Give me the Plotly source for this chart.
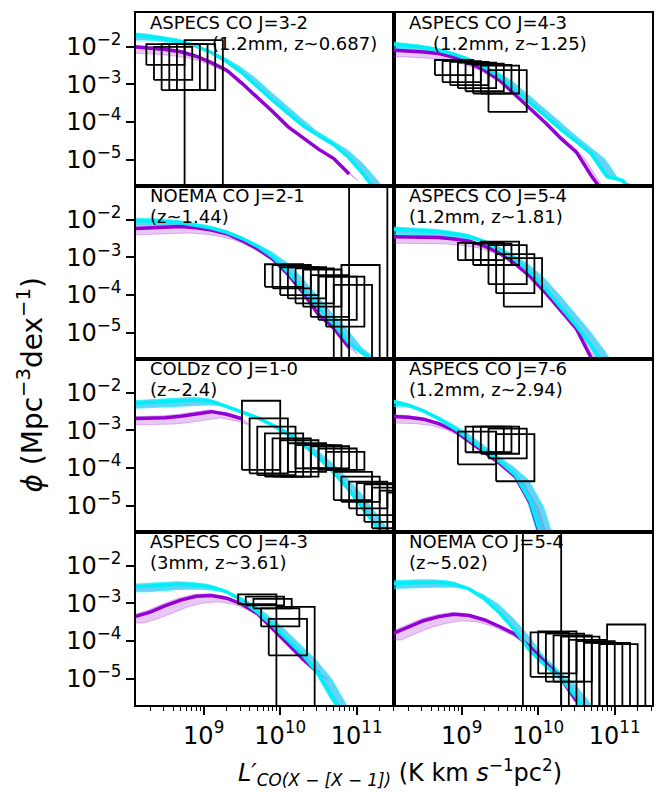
import plotly.graph_objects as go
from plotly.subplots import make_subplots

# ---------------- data (log10 values) ----------------
LOGL = [8.1, 8.3, 8.5, 8.7, 8.9, 9.1, 9.3, 9.5, 9.7, 9.9, 10.1, 10.3, 10.5, 10.7, 10.9, 11.1, 11.3, 11.5]

TITLES = ["ASPECS CO J=3-2", "ASPECS CO J=4-3", "NOEMA CO J=2-1", "ASPECS CO J=5-4",
          "COLDz CO J=1-0", "ASPECS CO J=7-6", "ASPECS CO J=4-3", "NOEMA CO J=5-4"]
SUBTITLES = ["(1.2mm, z~0.687)", "(1.2mm, z~1.25)", "(z~1.44)", "(1.2mm, z~1.81)",
             "(z~2.4)", "(1.2mm, z~2.94)", "(3mm, z~3.61)", "(z~5.02)"]

CYAN_1 = [-1.69, -1.73, -1.79, -1.86, -1.98, -2.15, -2.39, -2.69, -3.06, -3.42, -3.76, -4.10, -4.36, -4.60, -4.95, -5.42, -5.95, None]
PURPLE_1 = [-2.00, -2.03, -2.07, -2.13, -2.25, -2.42, -2.62, -2.97, -3.33, -3.72, -4.12, -4.42, -4.72, -4.97, -5.38, None, None, None]
CYAN_2 = [-1.93, -1.97, -2.02, -2.09, -2.20, -2.34, -2.54, -2.80, -3.15, -3.49, -3.84, -4.20, -4.52, -4.85, -5.45, -5.55, -6.0, None]
PURPLE_2 = [-2.09, -2.11, -2.14, -2.18, -2.28, -2.43, -2.63, -2.90, -3.27, -3.65, -4.03, -4.44, -4.80, -5.45, -6.0, None, None, None]
CYAN_3 = [-2.02, -2.03, -2.05, -2.08, -2.14, -2.22, -2.33, -2.49, -2.70, -2.98, -3.38, -3.85, -4.34, -4.77, -5.28, -5.58, -5.9, None]
PURPLE_3 = [-2.23, -2.21, -2.19, -2.18, -2.21, -2.27, -2.37, -2.55, -2.77, -3.04, -3.45, -3.94, -4.52, -4.88, -5.4, None, None, None]
CYAN_4 = [-2.25, -2.27, -2.29, -2.32, -2.37, -2.44, -2.58, -2.79, -3.05, -3.40, -3.85, -4.33, -4.82, -5.36, -6.0, None, None, None]
PURPLE_4 = [-2.45, -2.45, -2.46, -2.47, -2.51, -2.57, -2.70, -2.89, -3.17, -3.52, -3.95, -4.43, -4.90, -5.70, None, None, None, None]
CYAN_5 = [-2.28, -2.26, -2.24, -2.21, -2.19, -2.22, -2.37, -2.50, -2.66, -2.86, -3.10, -3.38, -3.72, -4.12, -4.58, -5.12, -5.68, -6.2]
PURPLE_5 = [-2.68, -2.67, -2.66, -2.62, -2.57, -2.50, -2.57, -2.69, None, None, None, None, None, None, None, None, None, None]
CYAN_6 = [-2.23, -2.33, -2.48, -2.69, -2.94, -3.24, -3.55, -3.83, -4.18, -4.90, -6.2, None, None, None, None, None, None, None]
PURPLE_6 = [-2.63, -2.65, -2.70, -2.82, -3.00, -3.29, -3.60, -3.88, -4.23, -4.95, -6.3, None, None, None, None, None, None, None]
CYAN_7 = [-2.56, -2.53, -2.50, -2.49, -2.51, -2.56, -2.69, -2.92, -3.23, -3.58, -3.97, -4.38, -4.87, -5.58, -6.2, None, None, None]
PURPLE_7 = [-3.35, -3.23, -3.06, -2.91, -2.81, -2.79, -2.86, -3.02, -3.27, -3.66, -4.08, -4.49, -4.85, None, None, None, None, None]
CYAN_8 = [-2.47, -2.45, -2.44, -2.44, -2.48, -2.62, -2.88, -3.26, -3.72, -4.27, -4.66, -5.00, -5.50, -6.2, None, None, None, None]
PURPLE_8 = [-3.80, -3.62, -3.46, -3.35, -3.29, -3.32, -3.44, -3.62, -3.82, -4.17, -4.59, -5.00, -5.60, None, None, None, None, None]

# model scatter (dex): lower-edge shift in L, lower-edge shift in phi, upper-edge shift in L, upper-edge shift in phi
CYAN_SPREAD = [0.17, 0.13, 0.05, 0.07]
PURPLE_SPREAD = [0.11, 0.17, 0.03, 0.05]

# observational error boxes: left edge of L bin (log), phi lower / upper (log); None = consistent with zero
BIN_WIDTH = 0.5
BOX_L_1 = [8.25, 8.35, 8.45, 8.55, 8.65, 8.75]
BOX_LO_1 = [-2.48, -2.88, -3.15, -3.15, -3.15, None]
BOX_HI_1 = [-1.93, -2.00, -1.93, -1.93, -1.93, -1.82]
BOX_L_2 = [8.65, 8.75, 8.85, 8.95, 9.05, 9.15, 9.25, 9.35]
BOX_LO_2 = [-2.75, -2.94, -3.02, -3.10, -3.18, -3.24, -3.24, -3.73]
BOX_HI_2 = [-2.35, -2.38, -2.40, -2.42, -2.45, -2.48, -2.50, -2.62]
BOX_L_3 = [9.8, 9.9, 10.0, 10.1, 10.2, 10.3, 10.4, 10.5, 10.6, 10.7, 10.8, 10.9]
BOX_LO_3 = [-3.78, -3.82, -4.00, -4.09, -4.22, -4.31, -4.58, -4.66, -4.84, None, None, None]
BOX_HI_3 = [-3.18, -3.20, -3.26, -3.26, -3.29, -3.32, -3.47, -3.51, -3.51, -3.73, -3.20, -0.5]
BOX_L_4 = [8.95, 9.05, 9.15, 9.25, 9.35, 9.45, 9.55]
BOX_LO_4 = [-3.07, -3.07, -3.20, -3.20, -3.71, -3.95, -4.31]
BOX_HI_4 = [-2.61, -2.61, -2.63, -2.58, -2.67, -2.91, -3.02]
BOX_L_5 = [9.5, 9.6, 9.7, 9.8, 9.9, 10.0, 10.1, 10.2, 10.3, 10.4, 10.5, 10.6, 10.7, 10.8, 10.9, 11.0, 11.1, 11.2, 11.3, 11.4]
BOX_LO_5 = [-4.05, -4.14, -4.19, -4.23, -4.23, -4.23, -4.10, -4.01, -4.01, -4.01, -4.05, -4.05, -4.85, -4.90, -5.07, -5.25, -5.43, -5.60, -5.75, -5.90]
BOX_HI_5 = [-2.21, -2.68, -2.90, -3.08, -3.21, -3.26, -3.34, -3.39, -3.39, -3.42, -3.48, -3.57, -4.10, -4.23, -4.36, -4.40, -4.43, -4.52, -4.60, -4.65]
BOX_L_6 = [8.95, 9.05, 9.15, 9.25, 9.35, 9.45]
BOX_LO_6 = [-3.90, -3.58, -3.58, -3.62, -3.74, -4.35]
BOX_HI_6 = [-3.03, -2.90, -2.90, -2.90, -2.95, -3.10]
BOX_L_7 = [9.45, 9.55, 9.65, 9.75, 9.85, 9.95]
BOX_LO_7 = [-3.02, -3.05, -3.13, -3.61, -4.38, None]
BOX_HI_7 = [-2.76, -2.82, -2.88, -3.13, -3.41, -3.09]
BOX_L_8 = [9.8, 9.9, 10.0, 10.1, 10.2, 10.3, 10.4, 10.5, 10.6, 10.7, 10.8, 10.9]
BOX_LO_8 = [None, -4.95, -4.86, -5.08, -5.08, None, None, None, None, None, None, None]
BOX_HI_8 = [-0.5, -3.77, -3.74, -3.80, -3.85, -3.88, -3.97, -4.00, -4.05, -4.05, -4.08, -3.56]

XTICK_VALS = [1e9, 1e10, 1e11]
XTICK_TEXT = ["10<sup>9</sup>", "10<sup>10</sup>", "10<sup>11</sup>"]
YTICK_VALS = [1e-2, 1e-3, 1e-4, 1e-5]
YTICK_TEXT = ["10<sup>\u22122</sup>", "10<sup>\u22123</sup>", "10<sup>\u22124</sup>", "10<sup>\u22125</sup>"]

CYANS = [CYAN_1, CYAN_2, CYAN_3, CYAN_4, CYAN_5, CYAN_6, CYAN_7, CYAN_8]
PURPLES = [PURPLE_1, PURPLE_2, PURPLE_3, PURPLE_4, PURPLE_5, PURPLE_6, PURPLE_7, PURPLE_8]
BOX_L = [BOX_L_1, BOX_L_2, BOX_L_3, BOX_L_4, BOX_L_5, BOX_L_6, BOX_L_7, BOX_L_8]
BOX_LO = [BOX_LO_1, BOX_LO_2, BOX_LO_3, BOX_LO_4, BOX_LO_5, BOX_LO_6, BOX_LO_7, BOX_LO_8]
BOX_HI = [BOX_HI_1, BOX_HI_2, BOX_HI_3, BOX_HI_4, BOX_HI_5, BOX_HI_6, BOX_HI_7, BOX_HI_8]

# ---------------- styling ----------------
FONT = "DejaVu Sans"
CYAN_LINE = "rgb(0,238,245)"
CYAN_FILL = "rgba(0,180,240,0.6)"
CYAN_EDGE = "rgba(0,255,255,0.7)"
PURPLE_LINE = "#9400D3"
PURPLE_FILL = "rgba(148,0,211,0.22)"
PURPLE_EDGE = "rgba(170,60,225,0.35)"
X_RANGE = [8.115, 11.487]
Y_RANGE = [-5.70, -1.10]
ZERO_FLOOR = -9.0


def valid(xs, ys):
    return [(x, y) for x, y in zip(xs, ys) if y is not None]


def band_polygon(xs, ys, spread):
    dxl, dyl, dxu, dyu = spread
    pts = valid(xs, ys)
    upper = [(x - dxu, y + dyu) for x, y in pts]
    lower = [(pts[0][0], pts[0][1] - dyl)] + [(x + dxl, y - dyl) for x, y in pts]
    poly = upper + lower[::-1] + [upper[0]]
    return [10 ** x for x, _ in poly], [10 ** y for _, y in poly]


def line_xy(xs, ys):
    pts = valid(xs, ys)
    return [10 ** x for x, _ in pts], [10 ** y for _, y in pts]


def boxes_xy(lefts, los, his):
    bx, by = [], []
    for l, lo, hi in zip(lefts, los, his):
        lo = ZERO_FLOOR if lo is None else lo
        x0, x1 = 10 ** l, 10 ** (l + BIN_WIDTH)
        y0, y1 = 10 ** lo, 10 ** hi
        bx += [x0, x1, x1, x0, x0, None]
        by += [y0, y0, y1, y1, y0, None]
    return bx, by


fig = make_subplots(rows=4, cols=2, horizontal_spacing=0, vertical_spacing=0)

for i in range(8):
    r, c = i // 2 + 1, i % 2 + 1
    px, py = band_polygon(LOGL, PURPLES[i], PURPLE_SPREAD)
    fig.add_trace(go.Scatter(x=px, y=py, mode="lines", fill="toself", fillcolor=PURPLE_FILL,
                             line=dict(color=PURPLE_EDGE, width=1), hoverinfo="skip", showlegend=False), row=r, col=c)
    cx, cy = band_polygon(LOGL, CYANS[i], CYAN_SPREAD)
    fig.add_trace(go.Scatter(x=cx, y=cy, mode="lines", fill="toself", fillcolor=CYAN_FILL,
                             line=dict(color=CYAN_EDGE, width=1.0), hoverinfo="skip", showlegend=False), row=r, col=c)
    lx, ly = line_xy(LOGL, PURPLES[i])
    fig.add_trace(go.Scatter(x=lx, y=ly, mode="lines", line=dict(color=PURPLE_LINE, width=3.5),
                             showlegend=False), row=r, col=c)
    lx, ly = line_xy(LOGL, CYANS[i])
    fig.add_trace(go.Scatter(x=lx, y=ly, mode="lines", line=dict(color=CYAN_LINE, width=3.5),
                             showlegend=False), row=r, col=c)
    bx, by = boxes_xy(BOX_L[i], BOX_LO[i], BOX_HI[i])
    fig.add_trace(go.Scatter(x=bx, y=by, mode="lines", line=dict(color="black", width=1.8),
                             showlegend=False), row=r, col=c)

minor_vals = [k * 10.0 ** n for n in range(8, 12) for k in range(2, 10)]

for i in range(8):
    r, c = i // 2 + 1, i % 2 + 1
    bottom = (r == 4)
    left = (c == 1)
    fig.update_xaxes(type="log", range=X_RANGE, showgrid=False, zeroline=False,
                     showline=True, linecolor="black", linewidth=1.5, mirror=True,
                     tickmode="array", tickvals=XTICK_VALS, ticktext=XTICK_TEXT,
                     ticks="outside" if bottom else "", ticklen=8, tickwidth=1.5, tickcolor="black",
                     showticklabels=bottom, tickfont=dict(family=FONT, size=24, color="black"),
                     minor=dict(tickmode="array", tickvals=minor_vals, ticks="outside" if bottom else "",
                                ticklen=4.5, tickwidth=1.2, tickcolor="black", showgrid=False),
                     row=r, col=c)
    fig.update_yaxes(type="log", range=Y_RANGE, showgrid=False, zeroline=False,
                     showline=True, linecolor="black", linewidth=1.5, mirror=True,
                     tickmode="array", tickvals=YTICK_VALS, ticktext=YTICK_TEXT,
                     ticks="outside" if left else "", ticklen=8, tickwidth=1.5, tickcolor="black",
                     showticklabels=left, tickfont=dict(family=FONT, size=24, color="black"),
                     row=r, col=c)

annotations = []
LINE2_X = [0.286, 0.143, 0.046, 0.05, 0.046, 0.05, 0.046, 0.05]
for i in range(8):
    ax = "" if i == 0 else str(i + 1)
    x1 = 0.046 if i % 2 == 0 else 0.05
    annotations.append(dict(xref=f"x{ax} domain", yref=f"y{ax} domain", x=x1, y=0.945,
                            xanchor="left", yanchor="middle", showarrow=False, text=TITLES[i],
                            font=dict(family=FONT, size=18, color="black")))
    annotations.append(dict(xref=f"x{ax} domain", yref=f"y{ax} domain", x=LINE2_X[i], y=0.824,
                            xanchor="left", yanchor="middle", showarrow=False, text=SUBTITLES[i],
                            font=dict(family=FONT, size=18, color="black")))

annotations.append(dict(xref="paper", yref="paper", x=0.5116, y=-0.097, xanchor="center", yanchor="middle",
                        showarrow=False,
                        text="<i>L\u2032</i><sub><i>CO(X \u2212 [X \u2212 1])</i></sub> (K km <i>s</i><sup>\u22121</sup>pc<sup>2</sup>)",
                        font=dict(family=FONT, size=24, color="black")))
annotations.append(dict(xref="paper", yref="paper", x=-0.205, y=0.462, xanchor="center", yanchor="middle",
                        showarrow=False, textangle=-90,
                        text="<i>\u03d5</i> (Mpc<sup>\u22123</sup>dex<sup>\u22121</sup>)",
                        font=dict(family=FONT, size=28, color="black")))

fig.update_layout(width=660, height=792, autosize=False,
                  margin=dict(l=136, r=6, t=13, b=87),
                  plot_bgcolor="white", paper_bgcolor="white",
                  annotations=annotations, showlegend=False)

fig.write_html("out.html")
